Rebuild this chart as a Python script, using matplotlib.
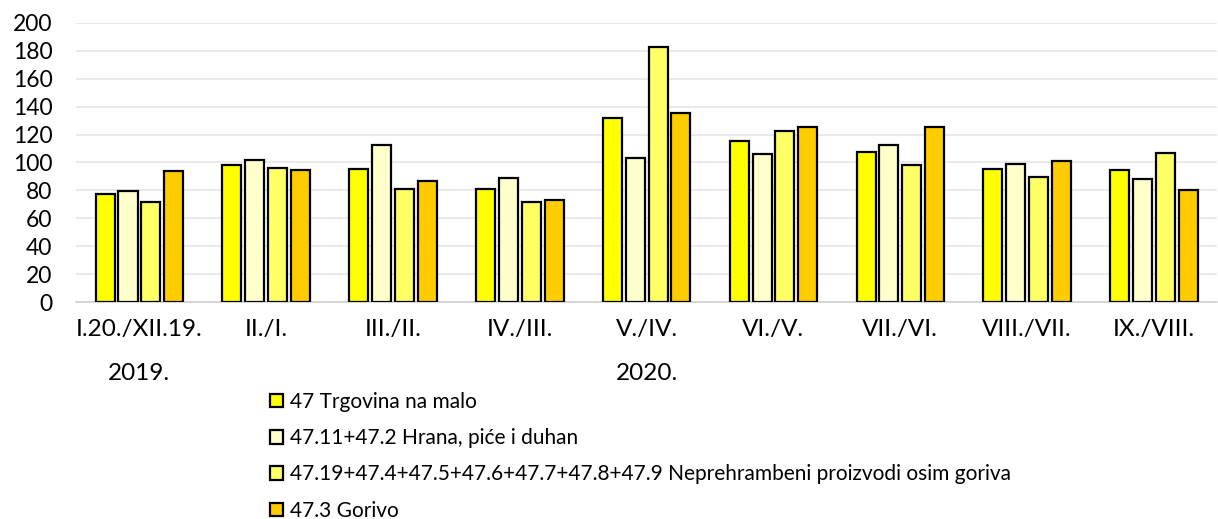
import matplotlib
matplotlib.use("Agg")
import matplotlib.pyplot as plt
import numpy as np

plt.rcParams["font.family"] = ["Lato", "DejaVu Sans"]

categories = ["I.20./XII.19.", "II./I.", "III./II.", "IV./III.", "V./IV.",
              "VI./V.", "VII./VI.", "VIII./VII.", "IX./VIII."]
series_names = ["47 Trgovina na malo",
                "47.11+47.2 Hrana, piće i duhan",
                "47.19+47.4+47.5+47.6+47.7+47.8+47.9 Neprehrambeni proizvodi osim goriva",
                "47.3 Gorivo"]
trgovina = [77.2, 98.4, 95.6, 80.8, 132.1, 115.4, 107.3, 95.3, 94.8]
hrana = [79.6, 101.8, 112.3, 88.9, 103.2, 106.1, 112.5, 98.9, 88.0]
neprehrambeni = [71.7, 95.8, 80.8, 71.5, 183.0, 122.6, 98.4, 89.8, 107.0]
gorivo = [93.7, 94.6, 86.7, 72.9, 135.3, 125.4, 125.4, 101.3, 80.1]
colors = ["#FFFF00", "#FFFFCC", "#FFFF66", "#FFCC00"]
years = ["2019.", "2020."]

fig = plt.figure(figsize=(12.18, 5.19), dpi=100)
ax = fig.add_axes([0.0624, 0.418, 0.937, 0.538])

x = np.arange(len(categories))
step = 0.18
width = 0.15
for i, (vals, c) in enumerate(zip([trgovina, hrana, neprehrambeni, gorivo], colors)):
    ax.bar(x + (i - 1.5) * step, vals, width, color=c, edgecolor="black",
           linewidth=1.6, label=series_names[i], zorder=3)

ax.set_xlim(-0.5, len(categories) - 0.5)
ax.set_ylim(0, 200)
ax.set_yticks(range(0, 201, 20))
ax.yaxis.grid(True, color="#e6e6e6", linewidth=1.2, zorder=0)
ax.set_xticks(x, categories)
ax.tick_params(axis="y", length=0, labelsize=16.5, pad=17)
ax.tick_params(axis="x", length=0, labelsize=17.5, pad=12)
for side in ("top", "right", "left"):
    ax.spines[side].set_visible(False)
ax.spines["bottom"].set_color("#d0d0d0")
ax.spines["bottom"].set_linewidth(1.2)

# year labels under the category axis
ax.text(0, -51, years[0], transform=ax.transData, ha="center", va="center",
        fontsize=17.5, clip_on=False)
ax.text(4, -51, years[1], transform=ax.transData, ha="center", va="center",
        fontsize=17.5, clip_on=False)

fig.legend(loc="upper left", bbox_to_anchor=(0.222, 0.245), frameon=False,
           fontsize=15, handlelength=0.62, handleheight=0.62, handletextpad=0.3,
           labelspacing=0.78, borderaxespad=0, borderpad=0)

fig.savefig("out.png", dpi=100)
